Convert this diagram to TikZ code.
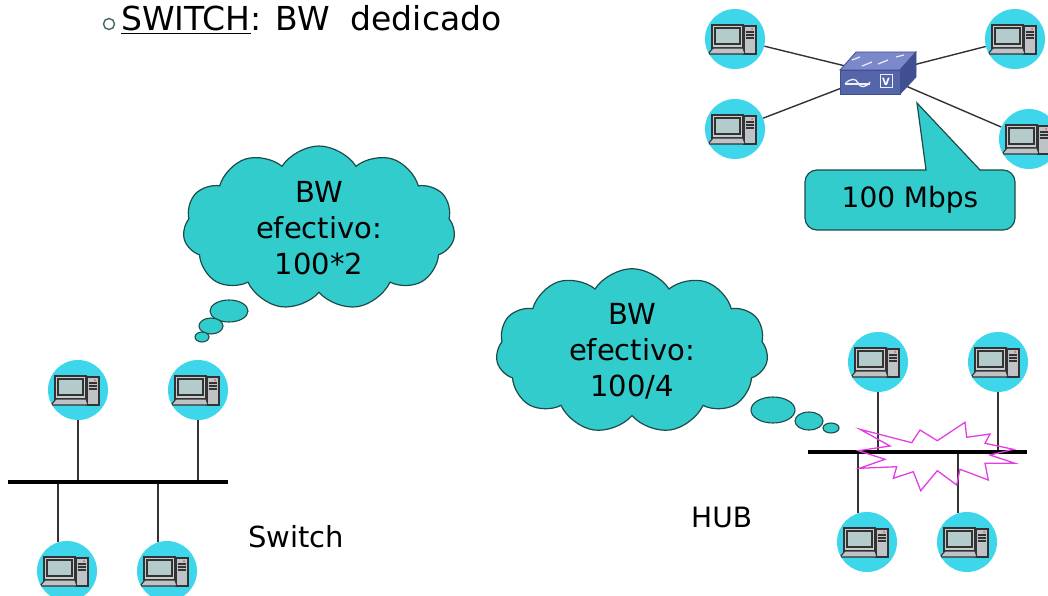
\documentclass[tikz,border=0pt]{standalone}
\usepackage{fontspec}
\setmainfont{DejaVu Sans}
\usetikzlibrary{shapes.symbols,backgrounds}
\definecolor{pcring}{HTML}{3ED6EA}
\definecolor{cloudteal}{HTML}{33CCCC}
\definecolor{cloudedge}{HTML}{1E4A4A}
\definecolor{hubpink}{HTML}{E33DE3}
\definecolor{swfront}{HTML}{5565AA}
\definecolor{swtop}{HTML}{7B89CA}
\definecolor{swside}{HTML}{404E92}
\definecolor{screengray}{HTML}{B4CBCB}
\definecolor{casegray}{HTML}{BFC3C7}
\definecolor{wiregray}{HTML}{333333}

% little computer drawn inside each round node
\newcommand{\pcglyph}{%
  \begin{scope}[shift={(path picture bounding box.center)},scale=1.06,draw=black!80,line width=1.1]
    \filldraw[fill=casegray] (9,-13) rectangle (21,15);
    \draw (11,-7) -- (19,-7); \draw (11,-4) -- (19,-4); \draw (11,-1) -- (19,-1);
    \fill[red!70] (17,-10) circle [radius=1];
    \filldraw[fill=casegray!85] (-23,-14) rectangle (8,9);
    \filldraw[fill=screengray] (-20,-11) rectangle (5,5);
    \filldraw[fill=casegray] (-22,9) -- (8,9) -- (10,15) -- (-27,15) -- cycle;
  \end{scope}}

\begin{document}
\begin{tikzpicture}[x=1pt,y=-1pt,
    pc/.style={circle,fill=pcring,minimum size=60,inner sep=0,path picture={\pcglyph}},
    wire/.style={wiregray,line width=1.4},
    bus/.style={black,line width=4},
    thought/.style={cloud,cloud puffs=11,cloud puff arc=115,aspect=1.65,fill=cloudteal,
      draw=cloudedge,line width=1.2,minimum width=272,minimum height=164,inner sep=0,
      align=center,font=\fontsize{29}{36}\selectfont},
    bubble/.style={fill=cloudteal,draw=cloudedge,line width=1.1}]
  \useasboundingbox (0,0) rectangle (1048,596);

  % heading
  \draw[cloudedge!80,line width=1.5] (109,24) circle [radius=5.5];
  \node[anchor=base west,inner sep=0,font=\fontsize{33}{38}\selectfont] (ttl) at (121,31)
    {\underline{SWITCH}: BW\ \ dedicado};

  % star around the switch
  \node[pc] (ta) at (735,39) {};
  \node[pc] (tb) at (1015,39) {};
  \node[pc] (tc) at (735,129) {};
  \node[pc] (td) at (1029,139) {};
  \coordinate (swt) at (878,74);
  \begin{scope}[on background layer]
    \draw[wire] (ta) -- (swt); \draw[wire] (tb) -- (swt);
    \draw[wire] (tc) -- (swt); \draw[wire] (td) -- (swt);
  \end{scope}
  \filldraw[fill=swtop,draw=swside,line width=0.8] (840,70) -- (900,70) -- (916,52) -- (856,52) -- cycle;
  \filldraw[fill=swside,draw=swside,line width=0.8] (900,70) -- (916,52) -- (916,77) -- (900,94) -- cycle;
  \filldraw[fill=swfront,draw=swside,line width=0.8] (840,70) rectangle (900,94);
  \draw[white!85!swtop,line width=1.2] (862,66) -- (872,62); \draw[white!85!swtop,line width=1.2] (878,64) -- (888,60);
  \draw[white!85!swtop,line width=1.2] (852,60) -- (860,57); \draw[white!85!swtop,line width=1.2] (896,57) -- (904,55);
  \draw[white!90!swfront,line width=1.3] (845,84) .. controls (850,78) and (856,78) .. (858,83)
    .. controls (860,88) and (866,88) .. (870,82);
  \draw[white!90!swfront,line width=1.3] (845,84) -- (870,84);
  \draw[white!90!swfront,line width=1] (880,75) rectangle (892,88);
  \node[white,inner sep=0,font=\fontsize{10}{10}\selectfont\bfseries] (vee) at (886,81.5) {V};

  % speed callout
  \draw[fill=cloudteal,draw=cloudedge,line width=1.2] (980,170) [rounded corners=12] -- (1015,170)
    -- (1015,230) -- (805,230) -- (805,170) [sharp corners] -- (926,170) -- (917,103) -- cycle;
  \node[inner sep=0,font=\fontsize{28}{32}\selectfont] (mbps) at (910,200) {100 Mbps};

  % thought clouds
  \node[thought] (cls) at (319,228) {BW\\efectivo:\\100*2};
  \filldraw[bubble] (229,311) ellipse [x radius=19,y radius=11];
  \filldraw[bubble] (211,326) ellipse [x radius=12,y radius=8];
  \filldraw[bubble] (202,337) ellipse [x radius=7,y radius=5];

  \node[thought] (clh) at (632,351) {BW\\efectivo:\\100/4};
  \filldraw[bubble] (773,410) ellipse [x radius=22,y radius=13];
  \filldraw[bubble] (809,421) ellipse [x radius=14,y radius=9];
  \filldraw[bubble] (831,428) ellipse [x radius=8,y radius=5];

  % switched segment
  \coordinate (lbw) at (8,482);
  \coordinate (lbe) at (228,482);
  \node[pc] (sa) at (78,390) {};
  \node[pc] (sb) at (198,390) {};
  \node[pc] (sc) at (67,571) {};
  \node[pc] (sd) at (167,571) {};
  \draw[wire] (sa.south) -- (sa.south |- lbw);
  \draw[wire] (sb.south) -- (sb.south |- lbw);
  \draw[wire] (sc.107) -- (sc.107 |- lbw);
  \draw[wire] (sd.107) -- (sd.107 |- lbw);
  \draw[bus] (lbw) -- (lbe);
  \node[anchor=base west,inner sep=0,font=\fontsize{29}{34}\selectfont] (lsw) at (248,547) {Switch};

  % shared segment with collision
  \coordinate (hbw) at (808,452);
  \coordinate (hbe) at (1027,452);
  \node[pc] (ha) at (878,362) {};
  \node[pc] (hb) at (998,362) {};
  \node[pc] (hc) at (867,542) {};
  \node[pc] (hd) at (967,542) {};
  \draw[wire] (ha.south) -- (ha.south |- hbw);
  \draw[wire] (hb.south) -- (hb.south |- hbw);
  \draw[wire] (hc.107) -- (hc.107 |- hbw);
  \draw[wire] (hd.107) -- (hd.107 |- hbw);
  \draw[bus] (hbw) -- (hbe);
  \draw[hubpink,line width=1.3,line join=miter] (860,429.3) -- (911.7,442.7) -- (920,430) -- (937.3,440.7)
    -- (965,422.3) -- (966.7,437.3) -- (990,434) -- (985,443.3) -- (1013.3,449.3) -- (990,455)
    -- (1015,463.3) -- (985,463.3) -- (988.3,480) -- (960,469.3) -- (956.7,485) -- (937.3,470.7)
    -- (920.7,490.7) -- (913.3,471.7) -- (893.3,478.3) -- (896.7,466.7) -- (859.3,468.3)
    -- (885,459.3) -- (858.3,450.7) -- (890,446) -- cycle;
  \node[anchor=base west,inner sep=0,font=\fontsize{28}{34}\selectfont] (lhub) at (691,527) {HUB};
\end{tikzpicture}
\end{document}
